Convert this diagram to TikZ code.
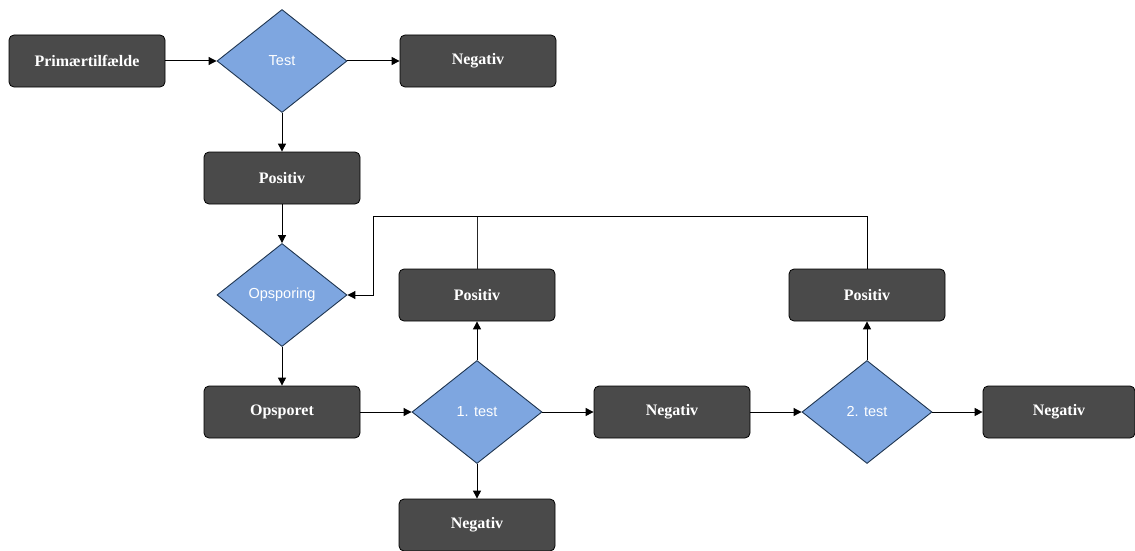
\documentclass[tikz,border=0pt]{standalone}
\usepackage{fontspec}
\setmainfont{Liberation Serif}
\newfontfamily\diafont{Liberation Sans}
\usetikzlibrary{shapes.geometric,arrows.meta}
\definecolor{boxfill}{HTML}{4A4A4A}
\definecolor{diafill}{HTML}{7EA6E0}
\definecolor{diaedge}{HTML}{1F3550}
\tikzset{
  boxnode/.style={draw=black, line width=0.8pt, fill=boxfill, rounded corners=5pt,
    minimum width=156pt, minimum height=52pt, inner sep=0pt,
    text=white, font=\fontsize{16}{19}\selectfont\bfseries},
  dianode/.style={draw=diaedge, line width=0.9pt, fill=diafill, diamond, aspect=1.26,
    minimum width=130pt, minimum height=103pt, inner sep=0pt,
    text=white, font=\diafont\fontsize{14.5}{17}\selectfont},
  conn/.style={draw=black, line width=1pt, -{Triangle[length=8pt,width=8pt]}},
  line/.style={draw=black!85, line width=1pt}
}
\begin{document}
\begin{tikzpicture}[x=1pt,y=-1pt]
\useasboundingbox (0,0) rectangle (1135,551);
\node[boxnode] (prim) at (87,61) {Primærtilfælde};
\node[dianode] (test) at (282,61) {Test};
\node[boxnode] (neg0) at (478,61) {Negativ};
\node[boxnode] (pos0) at (282,178) {Positiv};
\node[dianode] (ops) at (282,295) {Opsporing};
\node[boxnode] (opst) at (282,412) {Opsporet};
\node[dianode] (t1) at (477,412) {1. test};
\node[boxnode] (pos1) at (477,295) {Positiv};
\node[boxnode] (neg1) at (477,525) {Negativ};
\node[boxnode] (neg2) at (672,412) {Negativ};
\node[dianode] (t2) at (867,412) {2. test};
\node[boxnode] (pos2) at (867,295) {Positiv};
\node[boxnode, minimum width=152pt] (neg3) at (1059,412) {Negativ};
\coordinate (loopL) at (373,216);
\coordinate (loopLo) at (373,295);

\draw[conn] (prim) -- (test);
\draw[conn] (test) -- (neg0);
\draw[conn] (test) -- (pos0);
\draw[conn] (pos0) -- (ops);
\draw[conn] (ops) -- (opst);
\draw[conn] (opst) -- (t1);
\draw[conn] (t1) -- (pos1);
\draw[conn] (t1) -- (neg1);
\draw[conn] (t1) -- (neg2);
\draw[conn] (neg2) -- (t2);
\draw[conn] (t2) -- (pos2);
\draw[conn] (t2) -- (neg3);
\draw[line] (pos1.north) -- (pos1.north |- loopL);
\draw[conn] (pos2.north) -- (pos2.north |- loopL) -- (loopL) -- (loopLo) -- (ops.east);
\end{tikzpicture}
\end{document}
